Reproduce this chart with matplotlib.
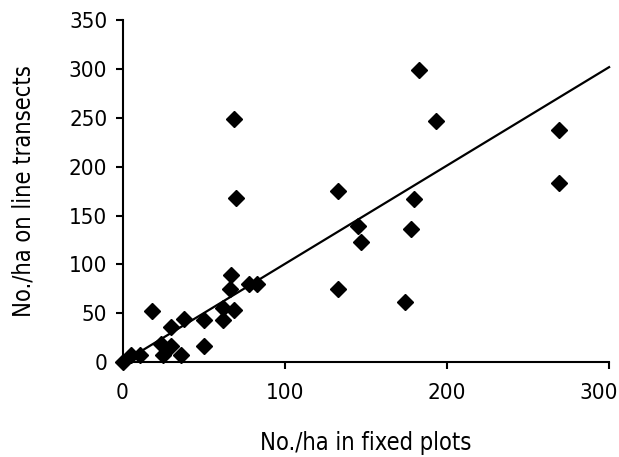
import matplotlib.pyplot as plt
import matplotlib.transforms as mtransforms
import numpy as np

# Density estimates: fixed plots vs line transects
fixed_plots = [0, 5, 11, 18, 24, 25, 30, 30, 36, 38, 50, 50, 62, 62, 67, 66,
               69, 69, 70, 78, 83, 133, 133, 145, 147, 174, 178, 180, 183, 193,
               269, 269]
line_transects = [0, 8, 8, 52, 19, 8, 17, 36, 8, 44, 43, 17, 56, 43, 89, 75,
                  53, 249, 168, 80, 80, 175, 75, 139, 123, 62, 136, 167, 299,
                  246, 237, 183]

# Fitted trend line
slope = 1.005
line_x = np.array([0, 300])

plt.rcParams['font.family'] = ['DejaVu Sans']
plt.rcParams['font.stretch'] = 'condensed'

fig = plt.figure(figsize=(6.19, 4.57), dpi=100)
ax = fig.add_axes([0.198, 0.207, 0.786, 0.750])

ax.plot(fixed_plots, line_transects, linestyle='none', marker='D',
        markersize=8, color='black', clip_on=False, zorder=3)
ax.plot(line_x, slope * line_x, color='black', linewidth=1.6, clip_on=False)

ax.set_xlim(0, 300)
ax.set_ylim(0, 350)
ax.set_xticks([0, 100, 200, 300])
ax.set_yticks(np.arange(0, 351, 50))

ax.set_xlabel("No./ha in fixed plots", fontsize=17, labelpad=20)
ax.set_ylabel("No./ha on line transects", fontsize=17, labelpad=24)

ax.spines['top'].set_visible(False)
ax.spines['right'].set_visible(False)
ax.spines['left'].set_linewidth(1.5)
ax.spines['bottom'].set_linewidth(1.5)
ax.tick_params(axis='both', direction='out', length=5, width=1.5,
               labelsize=16)
ax.tick_params(axis='x', pad=10)
ax.tick_params(axis='y', pad=6)

# keep the last x tick label inside the figure, like the original
last = ax.get_xticklabels()[-1]
last.set_horizontalalignment('right')
last.set_transform(last.get_transform() +
                   mtransforms.ScaledTranslation(9 / 100, 0, fig.dpi_scale_trans))

fig.savefig("out.png", dpi=100)
